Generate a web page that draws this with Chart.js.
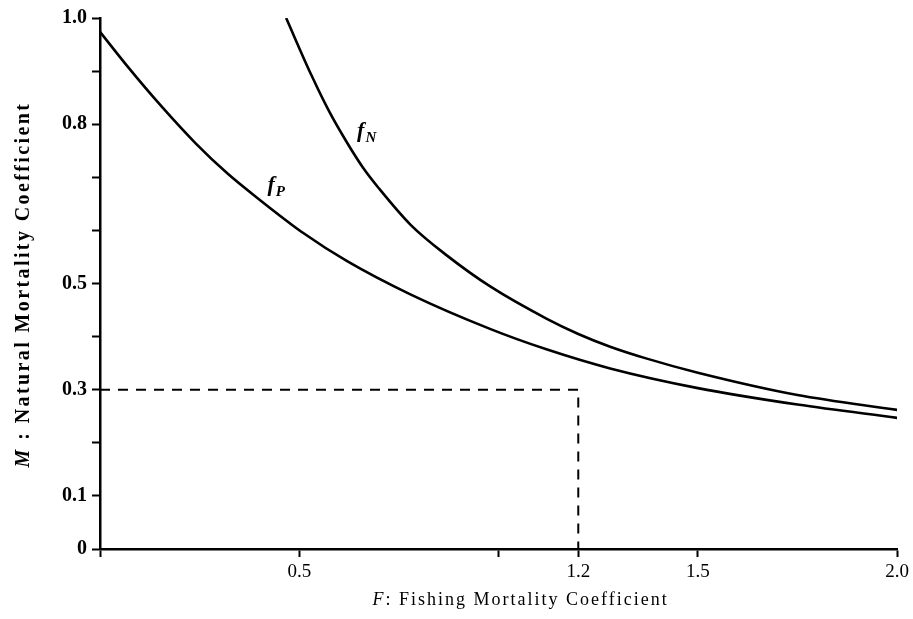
<!DOCTYPE html>
<html>
<head>
<meta charset="utf-8">
<script src="https://cdn.jsdelivr.net/npm/chart.js@4"></script>
<style>
html,body{margin:0;padding:0;background:#fff;}
#wrap{width:913px;height:619px;position:relative;}
</style>
</head>
<body>
<div id="wrap"><canvas id="c" width="913" height="619"></canvas></div>
<script>
// Curve f_P: fishing mortality F vs natural mortality M
const fpF = [0, 0.07, 0.155, 0.24, 0.32, 0.405, 0.51, 0.62, 0.78, 0.98, 1.12, 1.28, 1.5, 1.75, 2.0];
const fpM = [0.974, 0.908, 0.833, 0.764, 0.707, 0.655, 0.595, 0.542, 0.479, 0.414, 0.376, 0.340, 0.303, 0.272, 0.247];
// Curve f_N
const fnF = [0.467, 0.53, 0.575, 0.62, 0.66, 0.70, 0.78, 0.87, 0.98, 1.12, 1.2, 1.28, 1.37, 1.5, 1.75, 2.0];
const fnM = [1.0, 0.893, 0.824, 0.765, 0.718, 0.679, 0.61, 0.553, 0.494, 0.434, 0.405, 0.381, 0.359, 0.332, 0.290, 0.262];
// Reference dashed guide (F = 1.2, M = 0.3)
const guideF = [0, 1.2, 1.2];
const guideM = [0.3, 0.3, 0];
// Tick values and labels
const xTickVals = [0, 0.5, 1.0, 1.2, 1.5, 2.0];
const xTickLabels = ['', '0.5', '', '1.2', '1.5', '2.0'];
const yTickVals = [0, 0.1, 0.2, 0.3, 0.4, 0.5, 0.6, 0.7, 0.8, 0.9, 1.0];
const yTickLabels = ['0', '0.1', '', '0.3', '', '0.5', '', '', '0.8', '', '1.0'];
// Axis titles
const xTitleItalic = 'F';
const xTitleRest = ': Fishing Mortality Coefficient';
const yTitleItalic = 'M';
const yTitleRest = ' : Natural Mortality Coefficient';
// Curve name labels (anchor in data units)
const curveNames = [
  {main: 'f', sub: 'N', F: 0.645, M: 0.775},
  {main: 'f', sub: 'P', F: 0.42, M: 0.675}
];

const toPts = (xs, ys) => xs.map((x, i) => ({x: x, y: ys[i]}));
const SERIF = '"Liberation Serif", "DejaVu Serif", serif';

const textPlugin = {
  id: 'textPlugin',
  afterDatasetsDraw(chart) {
    const ctx = chart.ctx, xs = chart.scales.x, ys = chart.scales.y;
    ctx.save();
    ctx.fillStyle = '#000';
    ctx.textBaseline = 'alphabetic';
    ctx.textAlign = 'left';
    curveNames.forEach(c => {
      const px = xs.getPixelForValue(c.F), py = ys.getPixelForValue(c.M);
      ctx.font = 'italic bold 22px ' + SERIF;
      ctx.fillText(c.main, px, py);
      const w = ctx.measureText(c.main).width;
      ctx.font = 'italic bold 15px ' + SERIF;
      ctx.fillText(c.sub, px + w + 1, py + 5);
    });
    ctx.restore();
  },
  afterDraw(chart) {
    const ctx = chart.ctx, area = chart.chartArea;
    ctx.save();
    ctx.fillStyle = '#000';
    ctx.textBaseline = 'alphabetic';
    ctx.textAlign = 'left';
    // x title
    ctx.letterSpacing = '2px';
    ctx.font = 'italic 18px ' + SERIF;
    const wi = ctx.measureText(xTitleItalic).width;
    ctx.font = '18px ' + SERIF;
    const wr = ctx.measureText(xTitleRest).width;
    let x0 = (area.left + area.right) / 2 + 22 - (wi + wr) / 2;
    const yb = chart.height - 14;
    ctx.font = 'italic 18px ' + SERIF;
    ctx.fillText(xTitleItalic, x0, yb);
    ctx.font = '18px ' + SERIF;
    ctx.fillText(xTitleRest, x0 + wi, yb);
    // y title (rotated)
    ctx.letterSpacing = '2.4px';
    ctx.translate(29, (area.top + area.bottom) / 2 + 1);
    ctx.rotate(-Math.PI / 2);
    ctx.font = 'italic bold 20px ' + SERIF;
    const yi = ctx.measureText(yTitleItalic).width;
    ctx.font = 'bold 20px ' + SERIF;
    const yr = ctx.measureText(yTitleRest).width;
    const s = -(yi + yr) / 2;
    ctx.font = 'italic bold 20px ' + SERIF;
    ctx.fillText(yTitleItalic, s, 0);
    ctx.font = 'bold 20px ' + SERIF;
    ctx.fillText(yTitleRest, s + yi, 0);
    ctx.restore();
  }
};

const lineStyle = {showLine: true, pointRadius: 0, borderColor: '#000', backgroundColor: '#000', fill: false};

new Chart(document.getElementById('c'), {
  type: 'scatter',
  data: {
    datasets: [
      Object.assign({label: 'f_P', data: toPts(fpF, fpM), borderWidth: 2.6, cubicInterpolationMode: 'monotone'}, lineStyle),
      Object.assign({label: 'f_N', data: toPts(fnF, fnM), borderWidth: 2.6, cubicInterpolationMode: 'monotone'}, lineStyle),
      Object.assign({label: 'guide', data: toPts(guideF, guideM), borderWidth: 2, borderDash: [10, 8], tension: 0}, lineStyle)
    ]
  },
  options: {
    responsive: false,
    animation: false,
    devicePixelRatio: 1,
    layout: {padding: {top: 18, right: 13, left: 0, bottom: 0}},
    plugins: {legend: {display: false}, tooltip: {enabled: false}},
    scales: {
      x: {
        type: 'linear', min: 0, max: 2.0,
        afterBuildTicks(s) { s.ticks = xTickVals.map(v => ({value: v})); },
        afterFit(s) { s.height = 70; },
        ticks: {
          autoSkip: false, maxRotation: 0, padding: 4, color: '#000',
          font: {family: SERIF, size: 19},
          callback(v) { const i = xTickVals.findIndex(t => Math.abs(t - v) < 1e-9); return i >= 0 ? xTickLabels[i] : ''; }
        },
        grid: {drawOnChartArea: false, drawTicks: true, tickLength: 8, tickColor: '#000', tickWidth: 2, color: '#000'},
        border: {display: true, color: '#000', width: 2.5},
        title: {display: false}
      },
      y: {
        type: 'linear', min: 0, max: 1.0,
        afterBuildTicks(s) { s.ticks = yTickVals.map(v => ({value: v})); },
        afterFit(s) { s.width = 100; },
        ticks: {
          autoSkip: false, padding: 5, color: '#000',
          font: {family: SERIF, size: 20, weight: 'bold'},
          callback(v) { const i = yTickVals.findIndex(t => Math.abs(t - v) < 1e-9); return i >= 0 ? yTickLabels[i] : ''; }
        },
        grid: {drawOnChartArea: false, drawTicks: true, tickLength: 8, tickColor: '#000', tickWidth: 2, color: '#000'},
        border: {display: true, color: '#000', width: 2.5},
        title: {display: false}
      }
    }
  },
  plugins: [textPlugin]
});
</script>
</body>
</html>
